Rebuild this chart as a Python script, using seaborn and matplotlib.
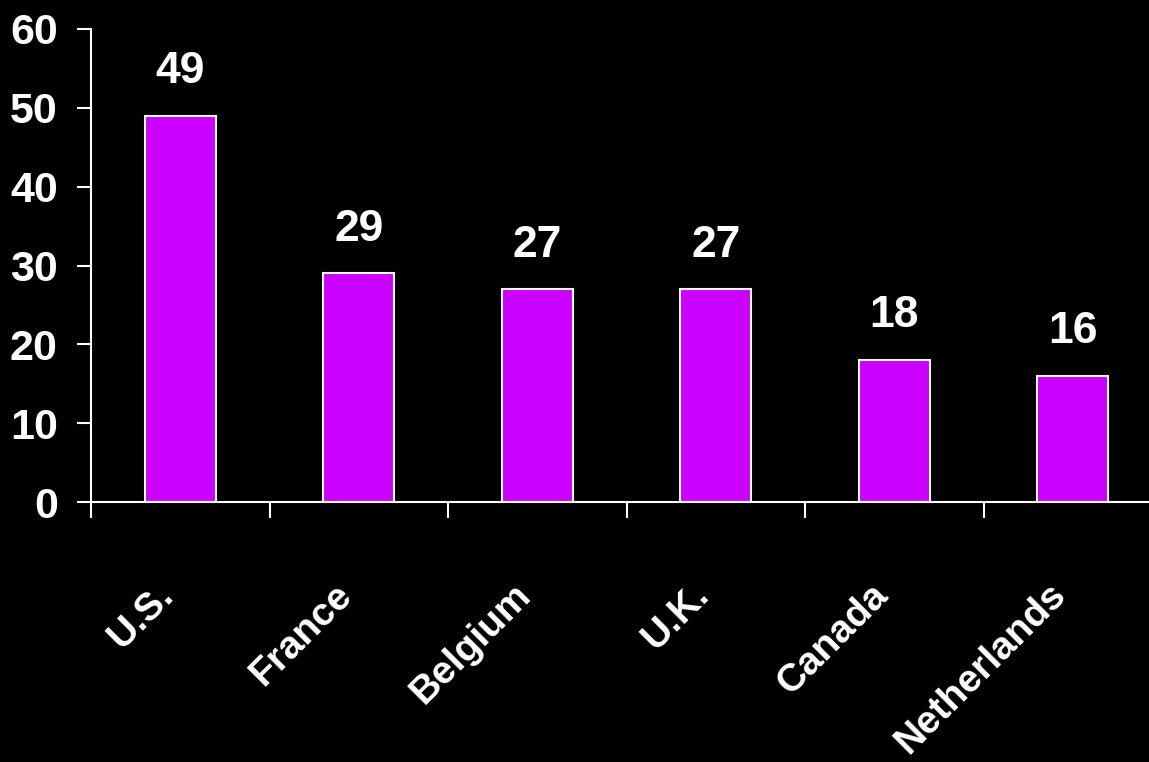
import matplotlib
matplotlib.use("Agg")
import matplotlib.pyplot as plt
import matplotlib.transforms as mtransforms
import seaborn as sns
import pandas as pd
import numpy as np

countries = ["U.S.", "France", "Belgium", "U.K.", "Canada", "Netherlands"]
values = [49, 29, 27, 27, 18, 16]
yticks = [0, 10, 20, 30, 40, 50, 60]

sns.set_theme(style="dark")
plt.rcParams['font.family'] = ['Liberation Sans', 'DejaVu Sans']

df = pd.DataFrame({"country": countries, "value": values})

fig = plt.figure(figsize=(11.49, 7.62), dpi=100, facecolor="black")
ax = fig.add_axes([91/1149, 260/762, (1162-91)/1149, (502-29)/762])
ax.set_facecolor("black")

sns.barplot(data=df, x="country", y="value", color="#CC00FF", width=0.40,
            edgecolor="white", linewidth=1.5, saturation=1, ax=ax)

for c in ax.containers:
    ax.bar_label(c, padding=17, color="white", fontsize=32, fontweight="bold")

ax.set_xlim(-0.5, 5.5)
ax.set_ylim(0, 60)
ax.set_yticks(yticks)
ax.set_yticklabels([str(t) for t in yticks], color="white", fontsize=31,
                   fontweight="bold")
ax.tick_params(axis="y", which="major", direction="out", length=10, width=1.5,
               color="white", pad=14, left=True)

ax.set_xticks(range(len(countries)))
ax.set_xticklabels(countries, rotation=45, ha="right", va="baseline",
                   rotation_mode="anchor", color="white", fontsize=28,
                   fontweight="bold")
ax.tick_params(axis="x", which="major", length=0, pad=68)
offset = mtransforms.ScaledTranslation(-5/100, 0, fig.dpi_scale_trans)
for lbl in ax.get_xticklabels():
    lbl.set_transform(lbl.get_transform() + offset)
ax.set_xticks(np.arange(-0.5, 6, 1.0), minor=True)
ax.tick_params(axis="x", which="minor", direction="out", length=11.5, width=1.5,
               color="white", bottom=True)

for s in ["top", "right"]:
    ax.spines[s].set_visible(False)
for s in ["left", "bottom"]:
    ax.spines[s].set_visible(True)
    ax.spines[s].set_color("white")
    ax.spines[s].set_linewidth(1.5)
ax.grid(False)
ax.set_xlabel("")
ax.set_ylabel("")

fig.savefig("out.png", dpi=100, facecolor="black")
